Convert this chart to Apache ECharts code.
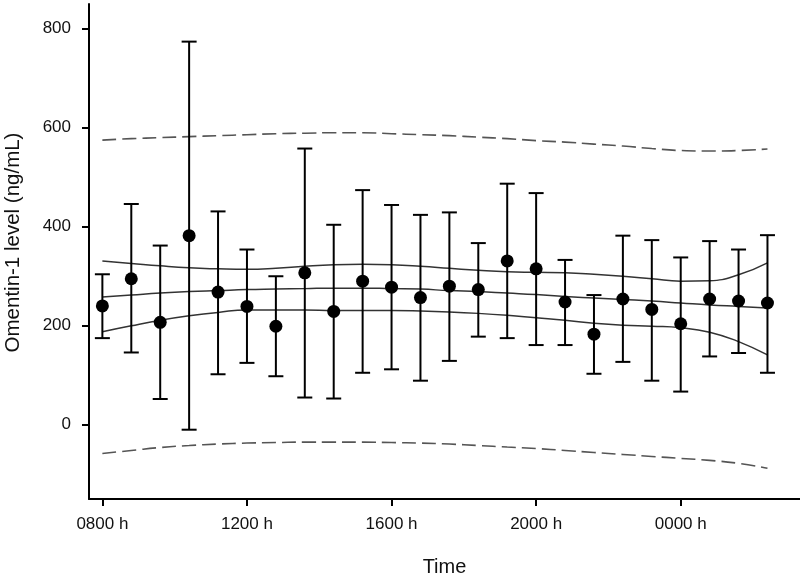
<!DOCTYPE html>
<html>
<head>
<meta charset="utf-8">
<script src="https://cdn.jsdelivr.net/npm/echarts@6/dist/echarts.min.js"></script>
<style>
  html, body { margin: 0; padding: 0; background: #fff; }
  #chart { width: 800px; height: 576px; }
</style>
</head>
<body>
<div id="chart"></div>
<script>
// hours after 0800 h for each sample
const hours = [0, 0.8, 1.6, 2.4, 3.2, 4, 4.8, 5.6, 6.4, 7.2, 8, 8.8,
  9.6, 10.4, 11.2, 12, 12.8, 13.6, 14.4, 15.2, 16, 16.8, 17.6, 18.4];
const tickHours = [0, 4, 8, 12, 16];
const tickLabels = ["0800 h", "1200 h", "1600 h", "2000 h", "0000 h"];
const yTicks = [0, 200, 400, 600, 800];

const mean = [240, 295, 207, 382, 268, 239, 199, 307, 229, 290, 278, 257,
  280, 273, 331, 315, 248, 183, 254, 233, 204, 254, 250, 246];
const upper = [304, 446, 362, 774, 431, 354, 300, 558, 404, 474, 444, 424,
  429, 367, 487, 468, 333, 262, 382, 373, 338, 371, 354, 383];
const lower = [175, 146, 52, -10, 102, 125, 98, 55, 53, 105, 112, 89,
  129, 178, 175, 161, 161, 103, 127, 89, 67, 138, 145, 105];

// fitted rhythm and its bands
const fit = [258, 262, 266, 269, 271, 273, 274, 275, 276, 276, 275, 274,
  271, 269, 266, 263, 259, 256, 253, 250, 246, 242, 239, 236];
const ciHigh = [331, 326, 321, 317, 315, 314, 316, 320, 323, 324, 323, 320,
  316, 312, 309, 308, 307, 304, 300, 295, 290, 291, 303, 327];
const ciLow = [188, 200, 211, 220, 227, 232, 232, 232, 231, 231, 231, 230,
  228, 225, 221, 216, 211, 205, 201, 199, 196, 187, 168, 141];
const piHigh = [575, 578, 580, 582, 584, 586, 588, 589, 590, 590, 588, 586,
  584, 581, 578, 574, 571, 567, 563, 558, 554, 553, 554, 557];
const piLow = [-58, -52, -46, -42, -39, -37, -36, -35, -35, -35, -36, -37,
  -39, -42, -45, -48, -52, -56, -60, -64, -68, -72, -78, -88];

const pair = (arr) => hours.map((h, i) => [h, arr[i]]);

var myChart = echarts.init(document.getElementById("chart"));
const font = "Liberation Sans, Arial, sans-serif";

const solid = (data) => ({
  type: "line", data: pair(data), smooth: true, symbol: "none",
  lineStyle: { color: "#333", width: 1.5 }, z: 2
});
const dashed = (data) => ({
  type: "line", data: pair(data), smooth: true, symbol: "none",
  lineStyle: { color: "#555", width: 1.6, type: [14, 6] }, z: 2
});

var option = {
  animation: false,
  grid: { left: 89, right: 0, top: 4, bottom: 77, outerBoundsMode: "none" },
  xAxis: {
    type: "value",
    min: -0.37,
    max: 19.3,
    name: "Time",
    nameLocation: "middle",
    nameGap: 58,
    nameTextStyle: { fontFamily: font, fontSize: 20, color: "#111" },
    axisLine: { onZero: false, lineStyle: { color: "#000", width: 2 } },
    axisTick: { customValues: tickHours, length: 7, lineStyle: { color: "#000", width: 2 } },
    axisLabel: {
      customValues: tickHours,
      margin: 17,
      fontFamily: font, fontSize: 17, color: "#111",
      formatter: (v) => tickLabels[tickHours.indexOf(v)]
    },
    splitLine: { show: false }
  },
  yAxis: {
    type: "value",
    min: -150,
    max: 850,
    name: "Omentin-1 level (ng/mL)",
    nameLocation: "middle",
    nameGap: 65,
    nameTextStyle: { fontFamily: font, fontSize: 20.5, color: "#111", padding: [0, 0, 0, 18] },
    axisLine: { show: true, onZero: false, lineStyle: { color: "#000", width: 2 } },
    axisTick: { show: true, customValues: yTicks, length: 7, lineStyle: { color: "#000", width: 2 } },
    axisLabel: { customValues: yTicks, margin: 18, fontFamily: font, fontSize: 17, color: "#111" },
    splitLine: { show: false }
  },
  series: [
    dashed(piHigh),
    dashed(piLow),
    solid(ciHigh),
    solid(fit),
    solid(ciLow),
    {
      type: "custom",
      data: hours.map((h, i) => [h, lower[i], upper[i]]),
      renderItem: (params, api) => {
        const lo = api.coord([api.value(0), api.value(1)]);
        const hi = api.coord([api.value(0), api.value(2)]);
        const hw = 7.5;
        const style = { stroke: "#000", lineWidth: 2 };
        return {
          type: "group",
          children: [
            { type: "line", shape: { x1: lo[0], y1: lo[1], x2: hi[0], y2: hi[1] }, style },
            { type: "line", shape: { x1: lo[0] - hw, y1: lo[1], x2: lo[0] + hw, y2: lo[1] }, style },
            { type: "line", shape: { x1: hi[0] - hw, y1: hi[1], x2: hi[0] + hw, y2: hi[1] }, style }
          ]
        };
      },
      z: 3
    },
    {
      type: "scatter",
      data: pair(mean),
      symbol: "circle",
      symbolSize: 13,
      itemStyle: { color: "#000", opacity: 1 },
      z: 4
    }
  ]
};
option && myChart.setOption(option);
</script>
</body>
</html>
